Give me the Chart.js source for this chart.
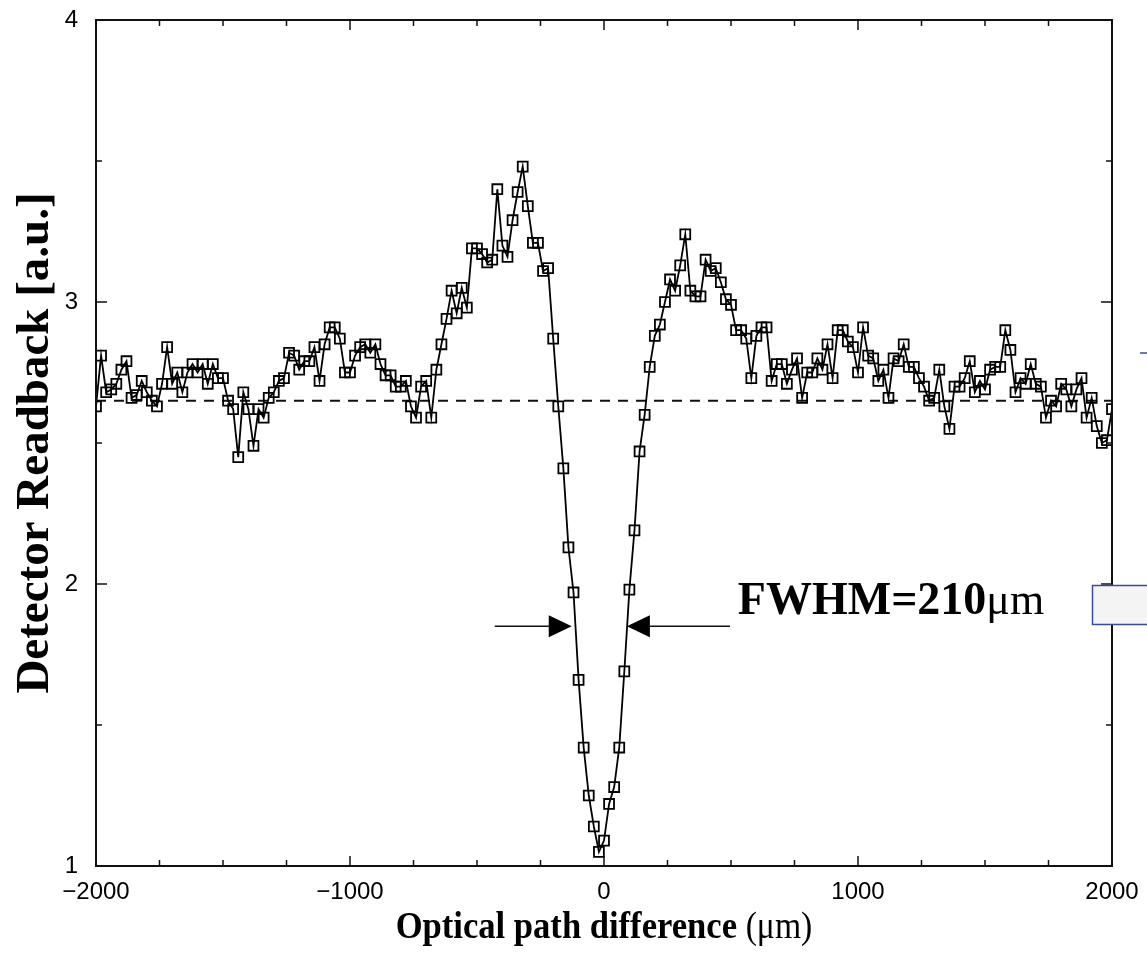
<!DOCTYPE html>
<html><head><meta charset="utf-8">
<script src="https://cdn.jsdelivr.net/npm/chart.js@4.4.1/dist/chart.umd.min.js"></script>
<style>html,body{margin:0;padding:0;background:#fff;}#wrap{position:relative;width:1147px;height:953px;}</style>
</head><body><div id="wrap"><canvas id="c" width="1147" height="953"></canvas></div>
<script>
// Optical path difference (µm) of each sample
const opd = [-2000,-1980,-1960,-1940,-1920,-1900,-1880,-1860,-1840,-1820,
-1800,-1780,-1760,-1740,-1720,-1700,-1680,-1660,-1640,-1620,
-1600,-1580,-1560,-1540,-1520,-1500,-1480,-1460,-1440,-1420,
-1400,-1380,-1360,-1340,-1320,-1300,-1280,-1260,-1240,-1220,
-1200,-1180,-1160,-1140,-1120,-1100,-1080,-1060,-1040,-1020,
-1000,-980,-960,-940,-920,-900,-880,-860,-840,-820,
-800,-780,-760,-740,-720,-700,-680,-660,-640,-620,
-600,-580,-560,-540,-520,-500,-480,-460,-440,-420,
-400,-380,-360,-340,-320,-300,-280,-260,-240,-220,
-200,-180,-160,-140,-120,-100,-80,-60,-40,-20,
0,20,40,60,80,100,120,140,160,180,
200,220,240,260,280,300,320,340,360,380,
400,420,440,460,480,500,520,540,560,580,
600,620,640,660,680,700,720,740,760,780,
800,820,840,860,880,900,920,940,960,980,
1000,1020,1040,1060,1080,1100,1120,1140,1160,1180,
1200,1220,1240,1260,1280,1300,1320,1340,1360,1380,
1400,1420,1440,1460,1480,1500,1520,1540,1560,1580,
1600,1620,1640,1660,1680,1700,1720,1740,1760,1780,
1800,1820,1840,1860,1880,1900,1920,1940,1960,1980,
2000];
// Detector readback [a.u.]
const readback = [2.63,2.81,2.68,2.69,2.71,2.76,2.79,2.66,2.67,2.72,
2.68,2.65,2.63,2.71,2.84,2.71,2.75,2.68,2.75,2.78,
2.75,2.78,2.71,2.78,2.73,2.73,2.65,2.62,2.45,2.68,
2.62,2.49,2.62,2.59,2.66,2.68,2.72,2.73,2.82,2.81,
2.76,2.79,2.79,2.84,2.72,2.85,2.91,2.91,2.87,2.75,
2.75,2.81,2.84,2.85,2.82,2.85,2.78,2.74,2.74,2.70,
2.70,2.72,2.63,2.59,2.70,2.72,2.59,2.76,2.85,2.94,
3.04,2.96,3.05,2.98,3.19,3.19,3.17,3.14,3.15,3.40,
3.20,3.16,3.29,3.39,3.48,3.34,3.21,3.21,3.11,3.12,
2.87,2.63,2.41,2.13,1.97,1.66,1.42,1.25,1.14,1.05,
1.09,1.22,1.28,1.42,1.69,1.98,2.19,2.47,2.60,2.77,
2.88,2.92,3.00,3.08,3.04,3.13,3.24,3.04,3.02,3.02,
3.15,3.11,3.12,3.07,3.01,2.99,2.90,2.90,2.87,2.73,
2.88,2.91,2.91,2.72,2.78,2.78,2.71,2.76,2.80,2.66,
2.75,2.75,2.80,2.76,2.85,2.73,2.90,2.90,2.86,2.84,
2.75,2.91,2.81,2.80,2.72,2.76,2.66,2.80,2.79,2.85,
2.77,2.77,2.73,2.70,2.65,2.66,2.76,2.63,2.55,2.70,
2.70,2.73,2.79,2.68,2.72,2.69,2.76,2.77,2.77,2.90,
2.83,2.68,2.73,2.71,2.78,2.71,2.70,2.59,2.65,2.63,
2.71,2.69,2.63,2.69,2.73,2.59,2.66,2.56,2.50,2.51,
2.62];
const baselineLevel = 2.65;
const baselineSpan = [-2000, 2000];
const xTickValues = [-2000, -1000, 0, 1000, 2000];
const xTickLabels = ['\u22122000', '\u22121000', '0', '1000', '2000'];
const yTickValues = [1, 2, 3, 4];
const yTickLabels = ['1', '2', '3', '4'];
const xTitleParts = ['Optical path difference ', '(\u03bcm)'];
const yTitleText = 'Detector Readback [a.u.]';
const fwhmLevel = 1.85;
const fwhmLeftArrow = [-430, -127];   // from, tip
const fwhmRightArrow = [496, 90];     // from, tip
const fwhmTextParts = ['FWHM=210', '\u03bcm'];
const fwhmTextAt = [527, 1.893];

const SERIF = '"Liberation Serif","DejaVu Serif",serif';
const SANS = '"Liberation Sans",Arial,sans-serif';

function drawMixed(ctx, parts, fonts, x, y, align) {
  let widths = parts.map((p, i) => { ctx.font = fonts[i]; return ctx.measureText(p).width; });
  let total = widths.reduce((a, b) => a + b, 0);
  let cx = align === 'center' ? x - total / 2 : x;
  ctx.textAlign = 'left';
  parts.forEach((p, i) => { ctx.font = fonts[i]; ctx.fillText(p, cx, y); cx += widths[i]; });
}

function noOverflow(s) { s.paddingTop = 0; s.paddingBottom = 0; s.paddingLeft = 0; s.paddingRight = 0; }

const decor = {
  id: 'decor',
  afterDraw(chart) {
    const { ctx, chartArea: a, scales: { x, y } } = chart;
    ctx.save();
    ctx.strokeStyle = '#111';
    ctx.fillStyle = '#000';
    // ticks (inward, all four sides)
    ctx.lineWidth = 1.5;
    ctx.beginPath();
    for (let v = -2000; v <= 2000; v += 250) {
      const px = x.getPixelForValue(v);
      const len = v % 1000 === 0 ? 10 : 6;
      ctx.moveTo(px, a.bottom); ctx.lineTo(px, a.bottom - len);
      ctx.moveTo(px, a.top); ctx.lineTo(px, a.top + len);
    }
    for (let v = 1; v <= 4; v += 0.5) {
      const py = y.getPixelForValue(v);
      const len = Number.isInteger(v) ? 11 : 6;
      ctx.moveTo(a.left, py); ctx.lineTo(a.left + len, py);
      ctx.moveTo(a.right, py); ctx.lineTo(a.right - len, py);
    }
    ctx.stroke();
    // frame
    ctx.lineWidth = 2;
    ctx.strokeRect(a.left, a.top, a.right - a.left, a.bottom - a.top);

    // FWHM arrows
    const fy = y.getPixelForValue(fwhmLevel);
    ctx.lineWidth = 1.6;
    [fwhmLeftArrow, fwhmRightArrow].forEach(([from, tip]) => {
      const x0 = x.getPixelForValue(from), x1 = x.getPixelForValue(tip);
      const dir = Math.sign(x1 - x0);
      ctx.beginPath(); ctx.moveTo(x0, fy); ctx.lineTo(x1 - dir * 20, fy); ctx.stroke();
      ctx.beginPath();
      ctx.moveTo(x1, fy); ctx.lineTo(x1 - dir * 23, fy - 11); ctx.lineTo(x1 - dir * 23, fy + 11);
      ctx.closePath(); ctx.fill();
    });
    // FWHM text
    ctx.textBaseline = 'alphabetic';
    drawMixed(ctx, fwhmTextParts, ['bold 46px ' + SERIF, '44px ' + SERIF],
      x.getPixelForValue(fwhmTextAt[0]), y.getPixelForValue(fwhmTextAt[1]), 'left');

    // x axis title (slightly condensed like the original)
    ctx.save();
    ctx.translate((a.left + a.right) / 2, 938);
    ctx.scale(0.91, 1);
    drawMixed(ctx, xTitleParts, ['bold 38px ' + SERIF, '37px ' + SERIF], 0, 0, 'center');
    ctx.restore();
    // y axis title
    ctx.save();
    ctx.translate(48, (a.top + a.bottom) / 2);
    ctx.rotate(-Math.PI / 2);
    ctx.font = 'bold 47px ' + SERIF;
    ctx.textAlign = 'center';
    ctx.fillText(yTitleText, 0, 0);
    ctx.restore();

    // slide remnants at right edge
    ctx.strokeStyle = '#3b4a9c';
    ctx.lineWidth = 1.5;
    ctx.beginPath(); ctx.moveTo(1140, 353); ctx.lineTo(1147, 353); ctx.stroke();
    ctx.fillStyle = '#f4f4f4';
    ctx.fillRect(1092, 585, 60, 40);
    ctx.strokeRect(1092.5, 585.5, 60, 39);
    ctx.restore();
  }
};

new Chart(document.getElementById('c'), {
  type: 'scatter',
  data: {
    datasets: [
      {
        data: opd.map((v, i) => ({ x: v, y: readback[i] })),
        showLine: true,
        borderColor: '#000',
        borderWidth: 1.8,
        pointStyle: 'rect',
        pointRadius: 7,
        pointBorderWidth: 1.8,
        pointBorderColor: '#000',
        pointBackgroundColor: 'rgba(255,255,255,0)',
        order: 1
      },
      {
        data: baselineSpan.map(v => ({ x: v, y: baselineLevel })),
        showLine: true,
        borderColor: '#111',
        borderWidth: 2,
        borderDash: [10, 8],
        pointRadius: 0,
        order: 2
      }
    ]
  },
  options: {
    responsive: false,
    animation: false,
    events: [],
    layout: { padding: { top: 20, right: 35, bottom: 0, left: 0 } },
    plugins: { legend: { display: false }, tooltip: { enabled: false } },
    scales: {
      x: {
        type: 'linear', min: -2000, max: 2000,
        grid: { display: false, drawTicks: false },
        border: { display: false },
        afterBuildTicks: s => { s.ticks = xTickValues.map(v => ({ value: v })); },
        ticks: {
          color: '#000', padding: 12, maxRotation: 0, autoSkip: false,
          font: { family: SANS, size: 24 },
          callback: v => xTickLabels[xTickValues.indexOf(v)]
        },
        afterFit: s => { s.height = 87; noOverflow(s); }
      },
      y: {
        type: 'linear', min: 1, max: 4,
        grid: { display: false, drawTicks: false },
        border: { display: false },
        afterBuildTicks: s => { s.ticks = yTickValues.map(v => ({ value: v })); },
        ticks: {
          color: '#000', padding: 18, autoSkip: false,
          font: { family: SANS, size: 24 },
          callback: v => yTickLabels[yTickValues.indexOf(v)]
        },
        afterFit: s => { s.width = 96; noOverflow(s); }
      }
    }
  },
  plugins: [decor]
});
</script></body></html>
